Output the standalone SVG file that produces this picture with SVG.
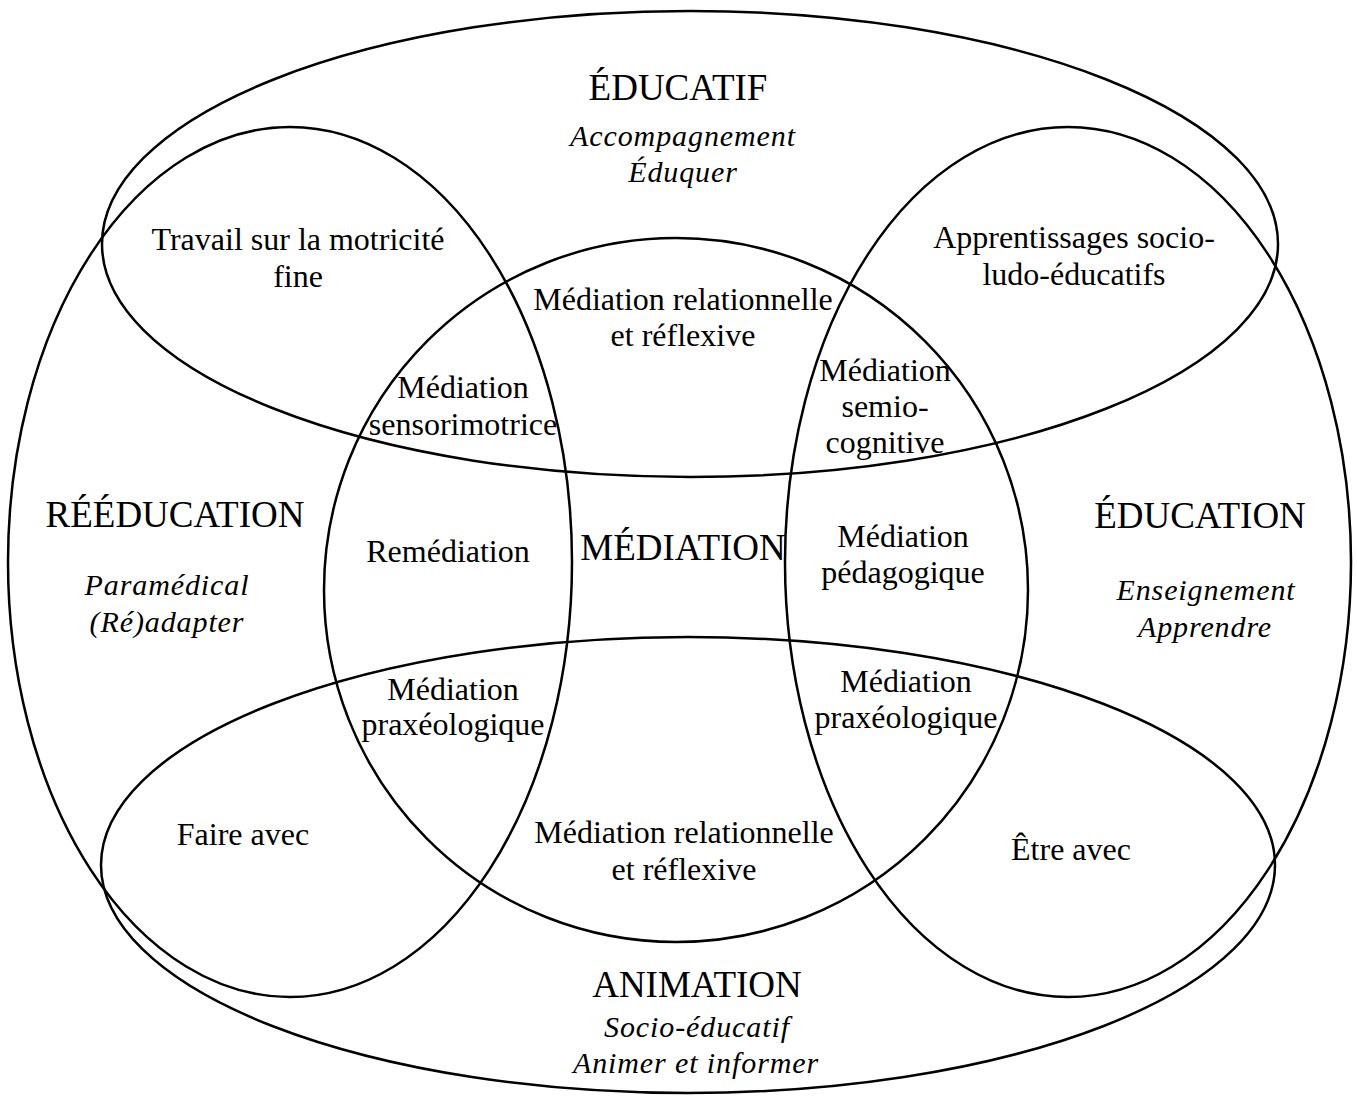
<svg xmlns="http://www.w3.org/2000/svg" width="1357" height="1097" viewBox="0 0 1357 1097">
<style>
.sh{fill:none;stroke:#000;stroke-width:2.5}
text{font-family:'Liberation Serif','DejaVu Serif',serif;fill:#000;text-anchor:middle}
.t{font-size:32px}
.h{font-size:37px}
.i{font-size:30px;font-style:italic;letter-spacing:0.9px}
</style>
<rect width="1357" height="1097" fill="#fff"/>
<g font-family="Liberation Serif, DejaVu Serif, serif">
<g id="educatif">
<ellipse class="sh" cx="690" cy="244" rx="588" ry="233"/>
<text class="h" x="678" y="100">ÉDUCATIF</text>
<text class="i" x="683" y="146">Accompagnement</text>
<text class="i" x="683" y="182">Éduquer</text>
</g>
<g id="animation">
<ellipse class="sh" cx="688" cy="865" rx="587" ry="228"/>
<text class="h" x="697" y="997">ANIMATION</text>
<text class="i" x="697" y="1037">Socio-éducatif</text>
<text class="i" x="696" y="1073">Animer et informer</text>
</g>
<g id="reeducation">
<ellipse class="sh" cx="290" cy="562" rx="282" ry="435"/>
<text class="h" x="175" y="527">RÉÉDUCATION</text>
<text class="i" x="167" y="595">Paramédical</text>
<text class="i" x="167" y="632">(Ré)adapter</text>
</g>
<g id="education">
<ellipse class="sh" cx="1068" cy="562" rx="283" ry="435"/>
<text class="h" x="1200" y="528">ÉDUCATION</text>
<text class="i" x="1206" y="600">Enseignement</text>
<text class="i" x="1205" y="637">Apprendre</text>
</g>
<g id="mediation">
<circle class="sh" cx="676" cy="590" r="352"/>
<text class="h" x="683" y="560">MÉDIATION</text>
</g>
<g id="travail">
<text class="t" x="298" y="250">Travail sur la motricité</text>
<text class="t" x="298" y="287">fine</text>
</g>
<g id="apprentissages">
<text class="t" x="1074" y="248">Apprentissages socio-</text>
<text class="t" x="1074" y="285">ludo-éducatifs</text>
</g>
<g id="relationnelle-haut">
<text class="t" x="683" y="310">Médiation relationnelle</text>
<text class="t" x="683" y="346">et réflexive</text>
</g>
<g id="sensorimotrice">
<text class="t" x="463" y="398">Médiation</text>
<text class="t" x="463" y="435">sensorimotrice</text>
</g>
<g id="semiocognitive">
<text class="t" x="885" y="381">Médiation</text>
<text class="t" x="885" y="417">semio-</text>
<text class="t" x="885" y="453">cognitive</text>
</g>
<g id="remediation">
<text class="t" x="448" y="562">Remédiation</text>
</g>
<g id="pedagogique">
<text class="t" x="903" y="547">Médiation</text>
<text class="t" x="903" y="583">pédagogique</text>
</g>
<g id="praxeologique-gauche">
<text class="t" x="453" y="700">Médiation</text>
<text class="t" x="453" y="735">praxéologique</text>
</g>
<g id="praxeologique-droite">
<text class="t" x="906" y="692">Médiation</text>
<text class="t" x="906" y="728">praxéologique</text>
</g>
<g id="faire-avec">
<text class="t" x="243" y="845">Faire avec</text>
</g>
<g id="relationnelle-bas">
<text class="t" x="684" y="843">Médiation relationnelle</text>
<text class="t" x="684" y="880">et réflexive</text>
</g>
<g id="etre-avec">
<text class="t" x="1071" y="860">Être avec</text>
</g>
</g>
</svg>
